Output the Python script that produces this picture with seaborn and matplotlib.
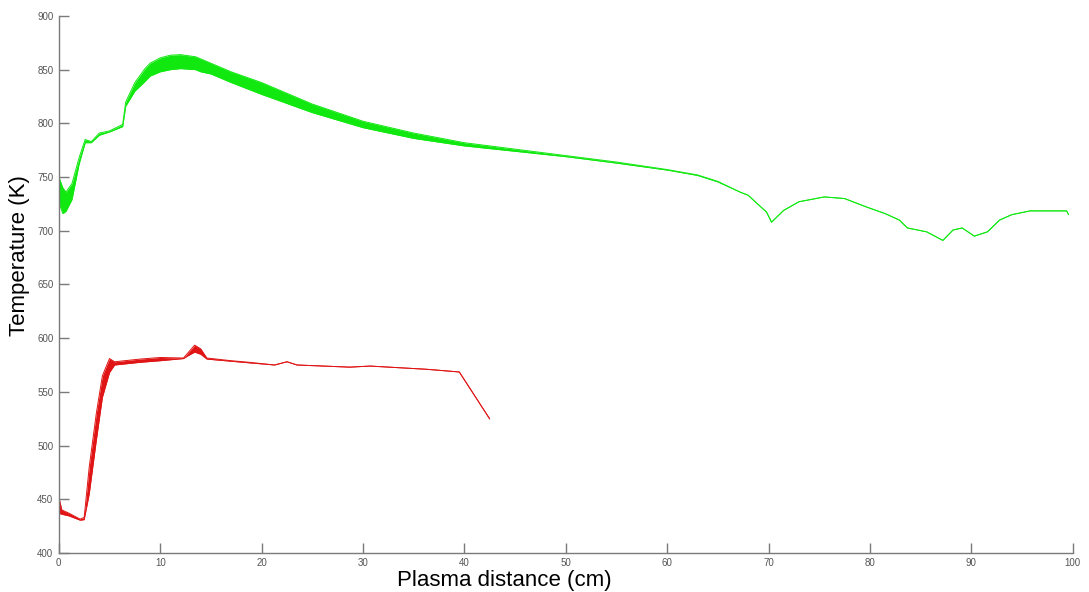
import numpy as np
import pandas as pd
import matplotlib
matplotlib.use("Agg")
import matplotlib.pyplot as plt
import seaborn as sns

# ── Data ──────────────────────────────────────────────────────────────────────
green_x = [0, 0.4, 0.7, 1.3, 2.0, 2.6, 3.2, 4.0, 5.0, 6.3, 6.6, 7.5, 8.5, 9, 10,
           11, 12, 13.5, 14, 15, 17, 20, 25, 30, 35, 40, 45, 50, 55, 60, 63, 65,
           67.2, 68, 68.8, 69.8, 70.3, 71.5, 73, 75.5, 77.5, 79.7, 81.5, 82.9,
           83.7, 85.6, 87.2, 88.2, 89.1, 90.3, 91.6, 92.8, 94, 95.8, 99.4, 99.6]
green_hi = [750, 740, 736, 744, 768, 785, 783, 791, 793, 799, 820, 838, 851, 856,
            861, 863.5, 864, 862, 860, 856, 848, 838, 818, 802, 791, 782, 776,
            770, 764, 757, 752, 746, 736, 733, 726, 717.5, 708, 719, 727, 731.5,
            730, 722, 716, 710, 702.6, 699, 691, 700.7, 702.6, 695, 699, 710, 715,
            718.5, 718.5, 715]
green_lo = [726, 716, 718, 729, 762, 782, 782, 789, 792, 797, 816, 830, 839, 844,
            848, 850, 851, 850, 848, 846, 838, 827, 810, 796, 786, 779, 774, 769,
            763, 756.5, 751.5, 745.5, 736, 733, 726, 717.5, 708, 719, 727, 731.5,
            730, 722, 716, 710, 702.6, 699, 691, 700.7, 702.6, 695, 699, 710, 715,
            718.5, 718.5, 715]

red_x = [0, 0.3, 1.0, 2.1, 2.5, 3.0, 3.7, 4.3, 5.0, 5.5, 6.5, 8, 10, 12.3, 12.8,
         13.4, 14, 14.6, 17, 18.8, 21.3, 22.5, 23.5, 28.7, 30.7, 36.3, 39.5, 42.5]
red_hi = [452, 440, 437, 431.5, 433, 480, 530, 565, 581, 578, 579, 580.5, 582,
          581.5, 587, 593.5, 590, 581.5, 579, 577.5, 575, 578, 575, 573, 574, 571,
          568.5, 524.8]
red_lo = [437, 436, 434.5, 430.5, 431, 455, 505, 545, 568, 575, 576, 577.5, 579,
          581, 584, 587, 585, 580.5, 578.5, 577, 575, 578, 575, 573, 574, 571,
          568.5, 524.8]

x_ticks = [0, 10, 20, 30, 40, 50, 60, 70, 80, 90, 100]
y_ticks = [400, 450, 500, 550, 600, 650, 700, 750, 800, 850, 900]

GREEN = "#10e810"
RED = "#e01414"
AXIS = "#7a7a7a"

sns.set_style("ticks")
plt.rcParams["font.family"] = ["Liberation Sans", "DejaVu Sans"]

fig = plt.figure(figsize=(10.89, 5.92), dpi=100)
ax = fig.add_axes([0.054, 0.066, 0.931, 0.907])

green = pd.DataFrame({"x": green_x, "hi": green_hi, "lo": green_lo})
red = pd.DataFrame({"x": red_x, "hi": red_hi, "lo": red_lo})

for df, col in [(green, GREEN), (red, RED)]:
    ax.fill_between(df["x"], df["lo"], df["hi"], color=col, linewidth=0)
    sns.lineplot(data=df, x="x", y="hi", ax=ax, color=col, lw=0.7, sort=False)
    sns.lineplot(data=df, x="x", y="lo", ax=ax, color=col, lw=0.7, sort=False)

ax.set_xlim(0, 100)
ax.set_ylim(400, 900)
ax.set_xticks(x_ticks)
ax.set_yticks(y_ticks)
ax.tick_params(direction="in", length=7, width=1, color=AXIS,
               labelsize=7, labelcolor="#555555", pad=4)
for s in ["top", "right"]:
    ax.spines[s].set_visible(False)
for s in ["left", "bottom"]:
    ax.spines[s].set_color(AXIS)
    ax.spines[s].set_linewidth(1)

ax.set_xlabel("Plasma distance (cm)", fontsize=16, color="black")
ax.set_ylabel("Temperature (K)", fontsize=16, color="black")
ax.xaxis.set_label_coords(0.439, -0.031)
ax.yaxis.set_label_coords(-0.028, 0.553)

fig.savefig("out.png", dpi=100)
plt.close()
